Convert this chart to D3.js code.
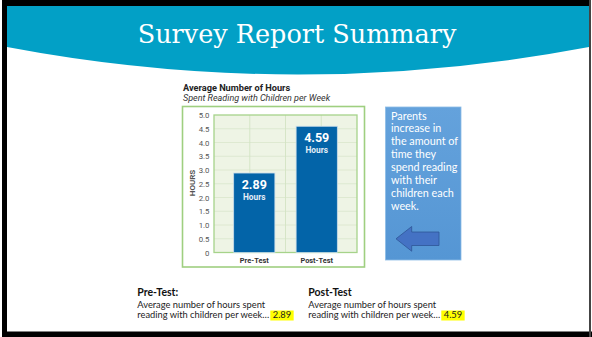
<!DOCTYPE html>
<html><head><meta charset="utf-8">
<script src="https://cdn.jsdelivr.net/npm/d3@7"></script>
<style>html,body{margin:0;padding:0;background:#fff;overflow:hidden}</style>
</head><body><svg id="c" width="592" height="337"></svg>
<script>
// Survey data
const categories = ["Pre-Test", "Post-Test"];
const hours = [2.89, 4.59];
const yTicks = [0, 0.5, 1, 1.5, 2, 2.5, 3, 3.5, 4, 4.5, 5];
const yTickLabels = ["0", "0.5", "1.0", "1.5", "2.0", "2.5", "3.0", "3.5", "4.0", "4.5", "5.0"];
const summaryHeads = ["Pre-Test:", "Post-Test"];
const summaryLead = ["Average number of hours spent", "reading with children per week\u2026"];
const calloutLines = ["Parents", "increase in", "the amount of", "time they", "spend reading", "with their", "children each", "week."];

const svg = d3.select("#c");

// slide frame
svg.append("rect").attr("x", 0).attr("y", 0).attr("width", 592).attr("height", 337).attr("fill", "#fff");
svg.append("rect").attr("x", 2).attr("y", 0).attr("width", 589).attr("height", 6).attr("fill", "#000");
svg.append("rect").attr("x", 2).attr("y", 0).attr("width", 5).attr("height", 337).attr("fill", "#000");
svg.append("rect").attr("x", 2).attr("y", 331.5).attr("width", 590).attr("height", 6).attr("fill", "#000");
svg.append("rect").attr("x", 589).attr("y", 0).attr("width", 2).attr("height", 337).attr("fill", "#444");

// header band with curved bottom edge
svg.append("path")
  .attr("d", "M7,6 L589,6 L589,47 Q298,102 7,47 Z")
  .attr("fill", "#02a0c6");
svg.append("text")
  .attr("x", 297).attr("y", 42.5)
  .attr("text-anchor", "middle")
  .attr("font-family", "'DejaVu Serif', 'Liberation Serif', serif")
  .attr("font-size", 25.5)
  .attr("fill", "#fff")
  .text("Survey Report Summary");

// chart titles
const sans = "Roboto, 'Liberation Sans', sans-serif";
svg.append("text").attr("x", 183).attr("y", 90.5)
  .attr("font-family", sans).attr("font-weight", "bold").attr("font-size", 9.2)
  .attr("fill", "#222").text("Average Number of Hours");
svg.append("text").attr("x", 183).attr("y", 101)
  .attr("font-family", sans).attr("font-style", "italic").attr("font-size", 9)
  .attr("fill", "#333").text("Spent Reading with Children per Week");

// outer chart box
svg.append("rect").attr("x", 182.5).attr("y", 106.5).attr("width", 182).attr("height", 160.5)
  .attr("fill", "#fff").attr("stroke", "#9fcf80").attr("stroke-width", 1.6);

// plot area
const px0 = 214, px1 = 357, pyTop = 115, pyBot = 252.5;
const y = d3.scaleLinear().domain([0, 5]).range([pyBot, pyTop]);
const x = d3.scaleBand().domain(categories).range([px0, px1]).paddingInner(0.34).paddingOuter(0.315);
const gridX = d3.scaleLinear().domain([0, 4]).range([px0, px1]);

svg.append("rect").attr("x", px0).attr("y", pyTop).attr("width", px1 - px0).attr("height", pyBot - pyTop)
  .attr("fill", "#eef4e5");
svg.append("g").selectAll("line").data(yTicks.slice(1, -1)).join("line")
  .attr("x1", px0).attr("x2", px1).attr("y1", d => y(d)).attr("y2", d => y(d))
  .attr("stroke", "#d9e6cb").attr("stroke-width", 0.8);
svg.append("g").selectAll("line").data([1, 2, 3]).join("line")
  .attr("x1", d => gridX(d)).attr("x2", d => gridX(d)).attr("y1", pyTop).attr("y2", pyBot)
  .attr("stroke", "#d3e3c3").attr("stroke-width", 0.9);
svg.append("rect").attr("x", px0).attr("y", pyTop).attr("width", px1 - px0).attr("height", pyBot - pyTop)
  .attr("fill", "none").attr("stroke", "#a6d38a").attr("stroke-width", 1.3);

// bars
const bars = svg.append("g").selectAll("g").data(categories.map((c, i) => ({ c, v: hours[i] }))).join("g");
bars.append("rect")
  .attr("x", d => x(d.c)).attr("width", x.bandwidth())
  .attr("y", d => y(d.v)).attr("height", d => y(0) - y(d.v))
  .attr("fill", "#0364a8").attr("stroke", "#c9dcea").attr("stroke-width", 0.8);
bars.append("text")
  .attr("x", d => x(d.c) + x.bandwidth() / 2).attr("y", d => y(d.v) + 16)
  .attr("text-anchor", "middle").attr("font-family", sans).attr("font-weight", "bold")
  .attr("font-size", 12.5).attr("fill", "#fff").text(d => d.v.toFixed(2));
bars.append("text")
  .attr("x", d => x(d.c) + x.bandwidth() / 2).attr("y", d => y(d.v) + 26.5)
  .attr("text-anchor", "middle").attr("font-family", sans).attr("font-weight", "bold")
  .attr("font-size", 8.3).attr("fill", "#e4eef7").text("Hours");

// axes
const yAxis = svg.append("g").attr("transform", `translate(${px0},0)`)
  .call(d3.axisLeft(y).tickValues(yTicks).tickFormat((d, i) => yTickLabels[i]).tickSize(0).tickPadding(4.5));
yAxis.select(".domain").remove();
yAxis.selectAll("text").attr("font-family", sans).attr("font-size", 7.8).attr("fill", "#555");

const xAxis = svg.append("g").attr("transform", `translate(0,${pyBot})`)
  .call(d3.axisBottom(x).tickSize(0).tickPadding(5));
xAxis.select(".domain").remove();
xAxis.selectAll("text").attr("font-family", sans).attr("font-weight", "bold").attr("font-size", 7.4).attr("fill", "#333");

svg.append("text").attr("transform", "translate(195,183) rotate(-90)")
  .attr("text-anchor", "middle").attr("font-family", sans).attr("font-weight", "bold")
  .attr("font-size", 8).attr("fill", "#555").text("HOURS");

// callout box
const defs = svg.append("defs");
const grad = defs.append("linearGradient").attr("id", "cg").attr("x1", 0).attr("y1", 0).attr("x2", 0).attr("y2", 1);
grad.append("stop").attr("offset", 0).attr("stop-color", "#64a2dc");
grad.append("stop").attr("offset", 1).attr("stop-color", "#5596d4");
svg.append("rect").attr("x", 385.5).attr("y", 107).attr("width", 75.5).attr("height", 153)
  .attr("fill", "url(#cg)").attr("stroke", "#8cbce6").attr("stroke-width", 0.8);
svg.append("g").selectAll("text").data(calloutLines).join("text")
  .attr("x", 391).attr("y", (d, i) => 119.5 + i * 12.9)
  .attr("font-family", "Lato, 'Open Sans', sans-serif").attr("font-size", 10.8)
  .attr("fill", "#fff").text(d => d);
svg.append("path")
  .attr("d", "M396,238.8 L411.7,226.5 L411.7,232 L439,232 L439,245.5 L411.7,245.5 L411.7,251.2 Z")
  .attr("fill", "#4472c4").attr("stroke", "#2f5597").attr("stroke-width", 0.8);

// summary blocks below the chart
const body = "Lato, 'Open Sans', sans-serif";
const blockX = [137.3, 308.3];
categories.forEach((c, i) => {
  const g = svg.append("g");
  g.append("text").attr("x", blockX[i]).attr("y", 295.5)
    .attr("font-family", body).attr("font-weight", "bold").attr("font-size", 10.5)
    .attr("fill", "#111").text(summaryHeads[i]);
  g.append("text").attr("x", blockX[i]).attr("y", 307.5)
    .attr("font-family", body).attr("font-size", 9.3).attr("fill", "#222").text(summaryLead[0]);
  const lead = g.append("text").attr("x", blockX[i]).attr("y", 317.5)
    .attr("font-family", body).attr("font-size", 9.3).attr("fill", "#222").text(summaryLead[1]);
  const lw = lead.node().getComputedTextLength();
  const hl = g.append("rect").attr("y", 310.5).attr("height", 10).attr("fill", "#ffff00");
  const val = g.append("text").attr("x", blockX[i] + lw + 3.5).attr("y", 317.5)
    .attr("font-family", body).attr("font-size", 9.3).attr("fill", "#222").text(hours[i].toFixed(2));
  const vw = val.node().getComputedTextLength();
  hl.attr("x", blockX[i] + lw + 1).attr("width", vw + 5);
});
</script></body></html>
